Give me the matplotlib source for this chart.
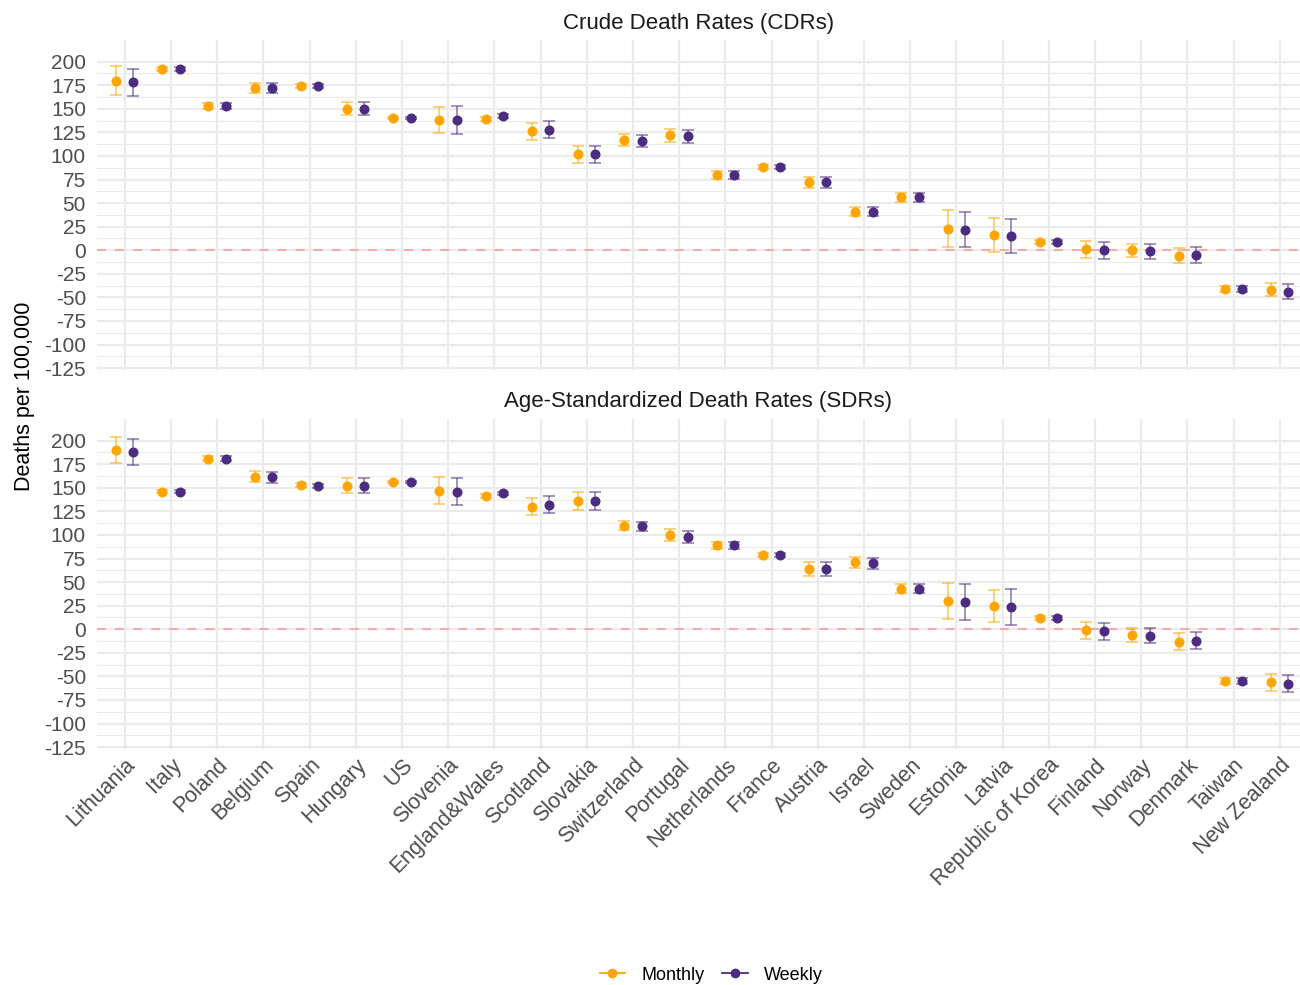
import matplotlib.pyplot as plt
import numpy as np
from matplotlib.lines import Line2D

plt.rcParams['font.family'] = ['Liberation Sans', 'DejaVu Sans']
plt.rcParams['axes.unicode_minus'] = False

countries = ['Lithuania', 'Italy', 'Poland', 'Belgium', 'Spain', 'Hungary', 'US',
             'Slovenia', 'England&Wales', 'Scotland', 'Slovakia', 'Switzerland',
             'Portugal', 'Netherlands', 'France', 'Austria', 'Israel', 'Sweden',
             'Estonia', 'Latvia', 'Republic of Korea', 'Finland', 'Norway',
             'Denmark', 'Taiwan', 'New Zealand']

# Crude death rates
cdr_monthly = [180, 192, 153, 172, 174, 150, 140, 138, 139, 126, 102, 117, 122,
               80, 88, 72, 41, 56, 23, 16, 9, 1, 0, -6, -41, -42]
cdr_monthly_err = [15, 2, 3, 5, 2, 7, 1, 14, 2, 9, 9, 6, 7,
                   4, 2, 6, 5, 5, 20, 18, 2, 9, 7, 8, 3, 7]
cdr_weekly = [178, 192, 153, 172, 174, 150, 140, 138, 142, 128, 102, 116, 121,
              80, 88, 72, 41, 56, 22, 15, 9, 0, -1, -5, -41, -44]
cdr_weekly_err = [14, 2, 3, 5, 2, 7, 1, 15, 2, 9, 9, 6, 7,
                  4, 2, 6, 5, 5, 19, 18, 2, 9, 8, 8, 3, 8]

# Age-standardized death rates
sdr_monthly = [190, 146, 181, 162, 153, 152, 156, 147, 141, 130, 136, 110, 100,
               89, 79, 64, 71, 43, 30, 25, 12, -1, -6, -13, -55, -56]
sdr_monthly_err = [14, 2, 3, 6, 2, 8, 1, 14, 2, 9, 10, 5, 6,
                   4, 2, 7, 6, 5, 19, 17, 2, 9, 7, 9, 3, 9]
sdr_weekly = [188, 146, 181, 161, 152, 152, 156, 146, 144, 132, 136, 109, 98,
              89, 79, 64, 70, 43, 29, 24, 12, -2, -7, -12, -55, -58]
sdr_weekly_err = [14, 2, 3, 6, 2, 8, 1, 14, 2, 9, 10, 5, 6,
                  4, 2, 7, 6, 5, 19, 19, 2, 9, 8, 9, 3, 9]

orange = '#FFA500'
purple = '#4B2C80'
grid_col = '#EBEBEB'
text_col = '#4D4D4D'

fig = plt.figure(figsize=(13, 9.85), dpi=100)
W, H = 1300, 985
left_px, right_px = 97, 1300
ax_top = fig.add_axes([left_px / W, 1 - 370 / H, (right_px - left_px) / W, 330 / H])
ax_bot = fig.add_axes([left_px / W, 1 - 749 / H, (right_px - left_px) / W, 330 / H])

x = np.arange(len(countries))
off = 0.19
yticks = np.arange(-125, 201, 25)


def draw_panel(ax, monthly, monthly_err, weekly, weekly_err):
    for vals, errs, col, dx in [(monthly, monthly_err, orange, -off),
                                (weekly, weekly_err, purple, off)]:
        ax.errorbar(x + dx, vals, yerr=errs, fmt='none', ecolor=col, alpha=0.55,
                    elinewidth=1.3, capsize=4.5, capthick=1.3, zorder=3)
        ax.plot(x + dx, vals, 'o', color=col, markersize=6.2, zorder=4)
    ax.axhline(0, color='#F4A6A6', linestyle=(0, (5, 5)), linewidth=1.3, zorder=2)
    ax.set_xlim(-0.6, (right_px - 124.7) / 46.2)
    ax.set_ylim(-127, 223)
    ax.set_yticks(yticks)
    ax.set_yticks(yticks[:-1] + 12.5, minor=True)
    ax.set_xticks(x)
    ax.grid(True, which='major', color=grid_col, linewidth=1.6, zorder=0)
    ax.grid(True, which='minor', axis='y', color=grid_col, linewidth=0.8, zorder=0)
    ax.set_axisbelow(True)
    for s in ax.spines.values():
        s.set_visible(False)
    ax.tick_params(which='both', length=0, labelcolor=text_col)
    ax.tick_params(axis='y', labelsize=15, pad=8)
    ax.tick_params(axis='x', labelsize=15.5, pad=4)
    ax.set_facecolor('white')


draw_panel(ax_top, cdr_monthly, cdr_monthly_err, cdr_weekly, cdr_weekly_err)
draw_panel(ax_bot, sdr_monthly, sdr_monthly_err, sdr_weekly, sdr_weekly_err)

ax_top.set_xticklabels([])
ax_bot.set_xticklabels(countries, rotation=45, ha='right', rotation_mode='anchor')

fig.text((left_px + right_px) / 2 / W, 1 - 23 / H, 'Crude Death Rates (CDRs)',
         ha='center', va='center', fontsize=16, color='#1A1A1A')
fig.text((left_px + right_px) / 2 / W, 1 - 402 / H, 'Age-Standardized Death Rates (SDRs)',
         ha='center', va='center', fontsize=16, color='#1A1A1A')
fig.text(25 / W, 1 - 396 / H, 'Deaths per 100,000', rotation=90,
         ha='center', va='center', fontsize=15.5, color='black')

handles = [Line2D([0], [0], color=orange, marker='o', markersize=6,
                  markerfacecolor=orange, linewidth=1.3),
           Line2D([0], [0], color=purple, marker='o', markersize=6,
                  markerfacecolor=purple, linewidth=1.3)]
fig.legend(handles, ['Monthly', 'Weekly'], loc='center', ncol=2,
           bbox_to_anchor=(0.547, 1 - 975 / H), frameon=False, fontsize=13,
           handlelength=1.4, columnspacing=1.0, handletextpad=0.9)

fig.savefig('out.png', dpi=100)
